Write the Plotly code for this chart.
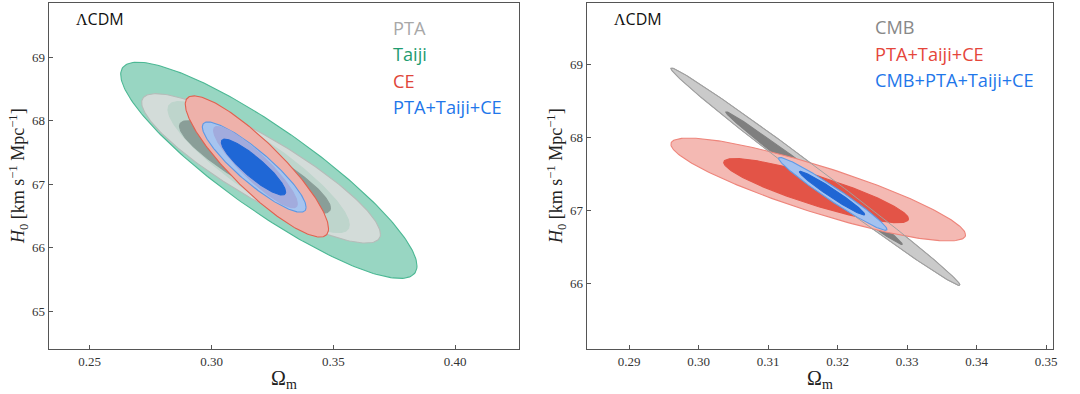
import numpy as np
import plotly.graph_objects as go

# ---------------- data ----------------
# Each contour: centre (Omega_m, H0), half-extent in Omega_m, half-extent in H0, correlation
# Left panel
L_names   = ["Taiji 2σ", "PTA 2σ", "Taiji 1σ", "PTA 1σ", "CE 2σ", "PTA+Taiji+CE 2σ", "CE 1σ", "PTA+Taiji+CE 1σ"]
L_cx      = [0.3235, 0.3203, 0.3193, 0.3178, 0.3186, 0.3175, 0.3180, 0.3172]
L_cy      = [67.22, 67.25, 67.27, 67.27, 67.28, 67.27, 67.27, 67.27]
L_ax      = [0.0608, 0.0490, 0.0372, 0.0310, 0.0294, 0.0213, 0.0172, 0.0132]
L_by      = [1.70, 1.175, 1.03, 0.73, 1.11, 0.71, 0.64, 0.44]
L_rho     = [-0.885, -0.88, -0.88, -0.88, -0.88, -0.89, -0.90, -0.89]
L_fill    = ["#98d6c2", "#d3dcd9", "#bed5cc", "#8a9e98", "#eeb1aa", "#a6c4ef", "#a2abdd", "#1f67d6"]
L_line    = ["#4cb894", "#b5bcb9", "#bed5cc", "#8a9e98", "#e2604f", "#5b98e6", "#a2abdd", "#1f67d6"]

# Right panel
R_names   = ["CMB 2σ", "CMB 1σ", "PTA+Taiji+CE 2σ", "PTA+Taiji+CE 1σ", "CMB+PTA+Taiji+CE 2σ", "CMB+PTA+Taiji+CE 1σ"]
R_cx      = [0.3168, 0.3166, 0.3172, 0.3169, 0.3193, 0.3192]
R_cy      = [67.46, 67.44, 67.285, 67.27, 67.225, 67.235]
R_ax      = [0.0208, 0.0127, 0.0212, 0.0133, 0.0078, 0.0047]
R_by      = [1.49, 0.91, 0.705, 0.44, 0.50, 0.30]
R_rho     = [-0.9955, -0.9955, -0.88, -0.88, -0.975, -0.975]
R_fill    = ["#cacaca", "#7f7f7f", "#f4b9b3", "#e35447", "#a4c2f0", "#1f66d4"]
R_line    = ["#a6a6a6", "#7f7f7f", "#ee857b", "#e35447", "#5d9be8", "#1f66d4"]

L_xticks = [0.25, 0.30, 0.35, 0.40]
L_yticks = [65, 66, 67, 68, 69]
R_xticks = [0.29, 0.30, 0.31, 0.32, 0.33, 0.34, 0.35]
R_yticks = [66, 67, 68, 69]

L_labels = ["PTA", "Taiji", "CE", "PTA+Taiji+CE"]
L_label_colors = ["#a8a8a8", "#1f9c70", "#e0453a", "#1f77ea"]
R_labels = ["CMB", "PTA+Taiji+CE", "CMB+PTA+Taiji+CE"]
R_label_colors = ["#888888", "#e5463b", "#1f77ea"]

# ---------------- helpers ----------------
t = np.linspace(0, 2 * np.pi, 240)


def ellipse(cx, cy, a, b, rho):
    x = cx + a * np.cos(t)
    y = cy + b * (rho * np.cos(t) + np.sqrt(1 - rho ** 2) * np.sin(t))
    return x, y


fig = go.Figure()


def add_set(names, cx, cy, ax, by, rho, fill, line, xa, ya):
    for i in range(len(names)):
        x, y = ellipse(cx[i], cy[i], ax[i], by[i], rho[i])
        fig.add_trace(go.Scatter(
            x=x, y=y, mode="lines", fill="toself", fillcolor=fill[i],
            line=dict(color=line[i], width=1.1), name=names[i],
            xaxis=xa, yaxis=ya, hoverinfo="skip", showlegend=False))


add_set(L_names, L_cx, L_cy, L_ax, L_by, L_rho, L_fill, L_line, "x", "y")
add_set(R_names[:4], R_cx[:4], R_cy[:4], R_ax[:4], R_by[:4], R_rho[:4], R_fill[:4], R_line[:4], "x2", "y2")
# CMB 2σ outline visible over the red contours
xo, yo = ellipse(R_cx[0], R_cy[0], R_ax[0], R_by[0], R_rho[0])
fig.add_trace(go.Scatter(x=xo, y=yo, mode="lines", line=dict(color="#a0a0a0", width=1),
                         xaxis="x2", yaxis="y2", hoverinfo="skip", showlegend=False))
add_set(R_names[4:], R_cx[4:], R_cy[4:], R_ax[4:], R_by[4:], R_rho[4:], R_fill[4:], R_line[4:], "x2", "y2")

W, H = 1080, 394
ydom = [1 - 349 / H, 1 - 3 / H]
serif = "Liberation Serif, serif"
sans = "Open Sans, Noto Sans, sans-serif"
tickfont = dict(family=serif, size=13, color="#333333")
axis_common = dict(showline=True, linecolor="#555555", linewidth=1.3, mirror=True,
                   ticks="inside", ticklen=4, tickcolor="#555555", tickwidth=1,
                   showgrid=False, zeroline=False, tickfont=tickfont)

fig.update_layout(
    width=W, height=H, margin=dict(l=0, r=0, t=0, b=0),
    paper_bgcolor="white", plot_bgcolor="white",
    xaxis=dict(domain=[49 / W, 521 / W], range=[0.2332, 0.4262], tickvals=L_xticks,
               ticktext=[f"{v:.2f}" for v in L_xticks], anchor="y", **axis_common),
    yaxis=dict(domain=ydom, range=[64.41, 69.85], tickvals=L_yticks,
               ticktext=[str(v) for v in L_yticks], anchor="x", **axis_common),
    xaxis2=dict(domain=[589 / W, 1057 / W], range=[0.2839, 0.3510], tickvals=R_xticks,
                ticktext=[f"{v:.2f}" for v in R_xticks], anchor="y2", **axis_common),
    yaxis2=dict(domain=ydom, range=[65.10, 69.84], tickvals=R_yticks,
                ticktext=[str(v) for v in R_yticks], anchor="x2", **axis_common),
)

ann = []
for x0, x1 in [(49, 521), (589, 1057)]:
    ann.append(dict(x=(x0 + x1) / 2 / W, y=1 - 379 / H, xref="paper", yref="paper",
                    xanchor="center", yanchor="middle",
                    text="Ω<sub>m</sub>", showarrow=False,
                    font=dict(family=serif, size=20, color="#222")))
    ann.append(dict(x=(x0 - 31) / W, y=1 - 176 / H, xref="paper", yref="paper",
                    xanchor="center", yanchor="middle",
                    text="<i>H</i><sub>0</sub> [km s<sup>−1</sup> Mpc<sup>−1</sup>]",
                    textangle=-90, showarrow=False,
                    font=dict(family=serif, size=18, color="#222")))
    ann.append(dict(x=(x0 + 25) / W, y=1 - 19 / H, xref="paper", yref="paper",
                    xanchor="left", yanchor="middle",
                    text="<span style=\"font-family:'Liberation Serif'\">Λ</span>CDM",
                    showarrow=False,
                    font=dict(family=sans, size=16, color="#111")))

for i, (lab, col) in enumerate(zip(L_labels, L_label_colors)):
    ann.append(dict(x=392 / W, y=1 - (28 + 26.3 * i) / H, xref="paper", yref="paper",
                    xanchor="left", yanchor="middle", text=lab, showarrow=False,
                    font=dict(family=sans, size=18.2, color=col)))
for i, (lab, col) in enumerate(zip(R_labels, R_label_colors)):
    ann.append(dict(x=876 / W, y=1 - (27 + 26.5 * i) / H, xref="paper", yref="paper",
                    xanchor="left", yanchor="middle", text=lab, showarrow=False,
                    font=dict(family=sans, size=18.2, color=col)))

fig.update_layout(annotations=ann)
fig.write_html("out.html")
